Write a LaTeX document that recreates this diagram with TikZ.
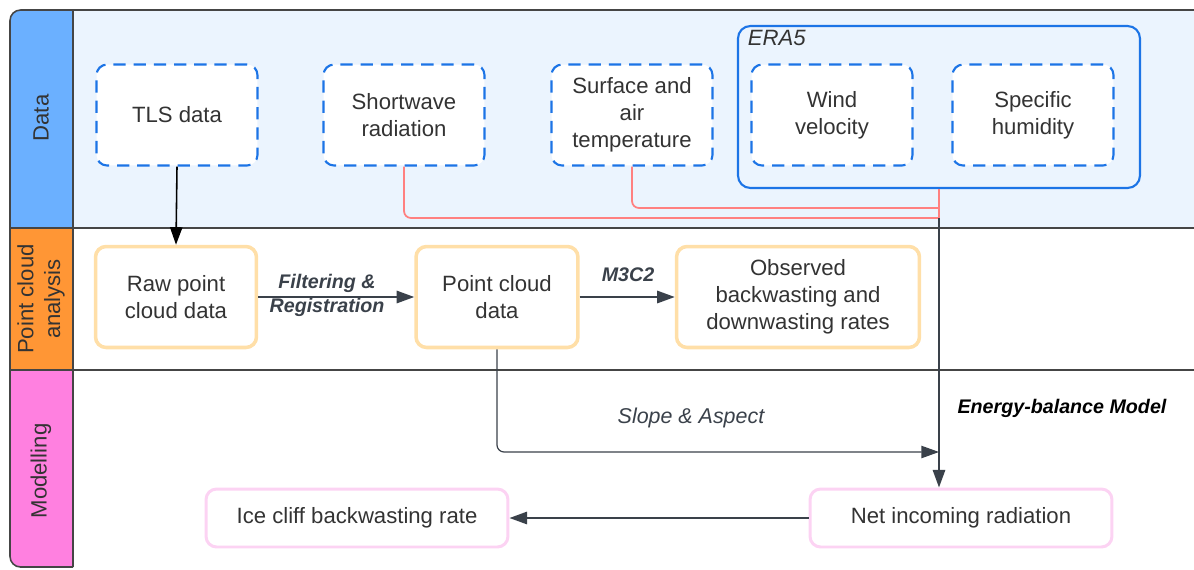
\documentclass[tikz,border=0pt]{standalone}
\usepackage{fontspec}
\setmainfont{Liberation Sans}
\usepackage{tikz}
\usetikzlibrary{arrows.meta}

\definecolor{databg}{HTML}{EBF4FE}
\definecolor{headblue}{HTML}{6BB0FF}
\definecolor{headorange}{HTML}{FF9635}
\definecolor{headpink}{HTML}{FF80E0}
\definecolor{blueline}{HTML}{1C74E6}
\definecolor{beige}{HTML}{FFDFA8}
\definecolor{pinkline}{HTML}{FCD3F3}
\definecolor{redline}{HTML}{FF8080}
\definecolor{darkline}{HTML}{3A414A}
\definecolor{textgray}{HTML}{333333}
\definecolor{framegray}{HTML}{454545}

\tikzset{
	boxfont/.style={font=\fontsize{12.6}{15.3}\selectfont, text=textgray, align=center},
	srcbox/.style={boxfont, draw=blueline, line width=1.2pt, dash pattern=on 7pt off 4.5pt, rounded corners=6pt, fill=white, minimum width=3.22cm, minimum height=2.02cm},
	pcbox/.style={boxfont, draw=beige, line width=2pt, rounded corners=6pt, fill=white, minimum height=2.02cm},
	modbox/.style={boxfont, draw=pinkline, line width=1.7pt, rounded corners=6pt, fill=white, minimum width=6.04cm, minimum height=1.16cm},
	lanelabel/.style={boxfont, rotate=90},
	frame/.style={draw=framegray, line width=0.9pt},
	flow/.style={draw=darkline, line width=1.1pt, -{Triangle[length=10pt,width=7pt]}},
	feed/.style={draw=redline, line width=1pt, rounded corners=4pt},
	steplabel/.style={font=\fontsize{11.2}{13.6}\selectfont\bfseries\itshape, text=darkline, align=center}
}

\begin{document}
\begin{tikzpicture}[x=0.02cm, y=-0.02cm]
	\useasboundingbox (0,0) rectangle (1194,569);

	\begin{scope}
		\clip [rounded corners=6pt] (10,10) rectangle (1240,567);
		\fill [databg] (73,10) rectangle (1240,228);
		\fill [headblue] (10,10) rectangle (73,228);
		\fill [headorange] (10,228) rectangle (73,370);
		\fill [headpink] (10,370) rectangle (73,567);
	\end{scope}
	\draw [frame, rounded corners=6pt] (1240,10) -- (10,10) -- (10,567) -- (73,567);
	\draw [frame] (73,10) -- (73,567);
	\draw [frame] (10,228) -- (1240,228);
	\draw [frame] (10,370) -- (1240,370);

	\node [lanelabel] (hdata) at (41,118) {Data};
	\node [lanelabel] (hpc) at (41,299) {Point cloud\\analysis};
	\node [lanelabel] (hmod) at (41,471) {Modelling};

	\node [draw=blueline, line width=1.2pt, rounded corners=7pt, minimum width=8.04cm, minimum height=3.24cm] (era) at (939,107) {};
	\node [anchor=north west, font=\fontsize{12.6}{15.3}\selectfont\itshape, text=textgray, inner sep=0pt] (eralbl) at ([xshift=6pt,yshift=-3pt]era.north west) {ERA5};

	\node [srcbox] (tls) at (177,115) {TLS data};
	\node [srcbox] (sw) at (404,115) {Shortwave\\radiation};
	\node [srcbox] (temp) at (632,115) {Surface and\\air\\temperature};
	\node [srcbox] (wind) at (832,115) {Wind\\velocity};
	\node [srcbox] (hum) at (1033,115) {Specific\\humidity};

	\node [pcbox, minimum width=3.22cm] (raw) at (176,297) {Raw point\\cloud data};
	\node [pcbox, minimum width=3.24cm] (pcd) at (497,297) {Point cloud\\data};
	\node [pcbox, minimum width=4.86cm] (obs) at (798,297) {Observed\\backwasting and\\downwasting rates};

	\node [modbox] (net) at (961,518) {Net incoming radiation};
	\node [modbox] (ice) at (357,518) {Ice cliff backwasting rate};

	\coordinate (j1) at (939,218);
	\coordinate (j2) at (939,208);
	\coordinate (slp) at (939,452);

	\draw [feed] (sw.south) |- (j1);
	\draw [feed] (temp.south) |- (j2);
	\draw [feed] (era.south) -- (j1);
	\draw [flow] (j1) -- (j1 |- net.north);

	\draw [draw=black, line width=0.9pt, -{Triangle[length=10pt,width=7pt]}] (tls.south) -- (raw.north);
	\draw [flow] (raw.east) -- (pcd.west);
	\draw [flow] (pcd.east) -- (obs.west);
	\draw [flow, line width=0.7pt, rounded corners=4pt] (pcd.south) |- (slp);
	\draw [flow] (net.west) -- (ice.east);

	\node [steplabel] (filt) at (327,295) {Filtering \&\\Registration};
	\node [steplabel] (m3c2) at (628,275) {M3C2};
	\node [font=\fontsize{12.2}{14}\selectfont\itshape, text=darkline] (slope) at (691,418) {Slope \& Aspect};
	\node [font=\fontsize{11.2}{13.6}\selectfont\bfseries\itshape, text=black] (ebm) at (1062,408) {Energy-balance Model};
\end{tikzpicture}
\end{document}
